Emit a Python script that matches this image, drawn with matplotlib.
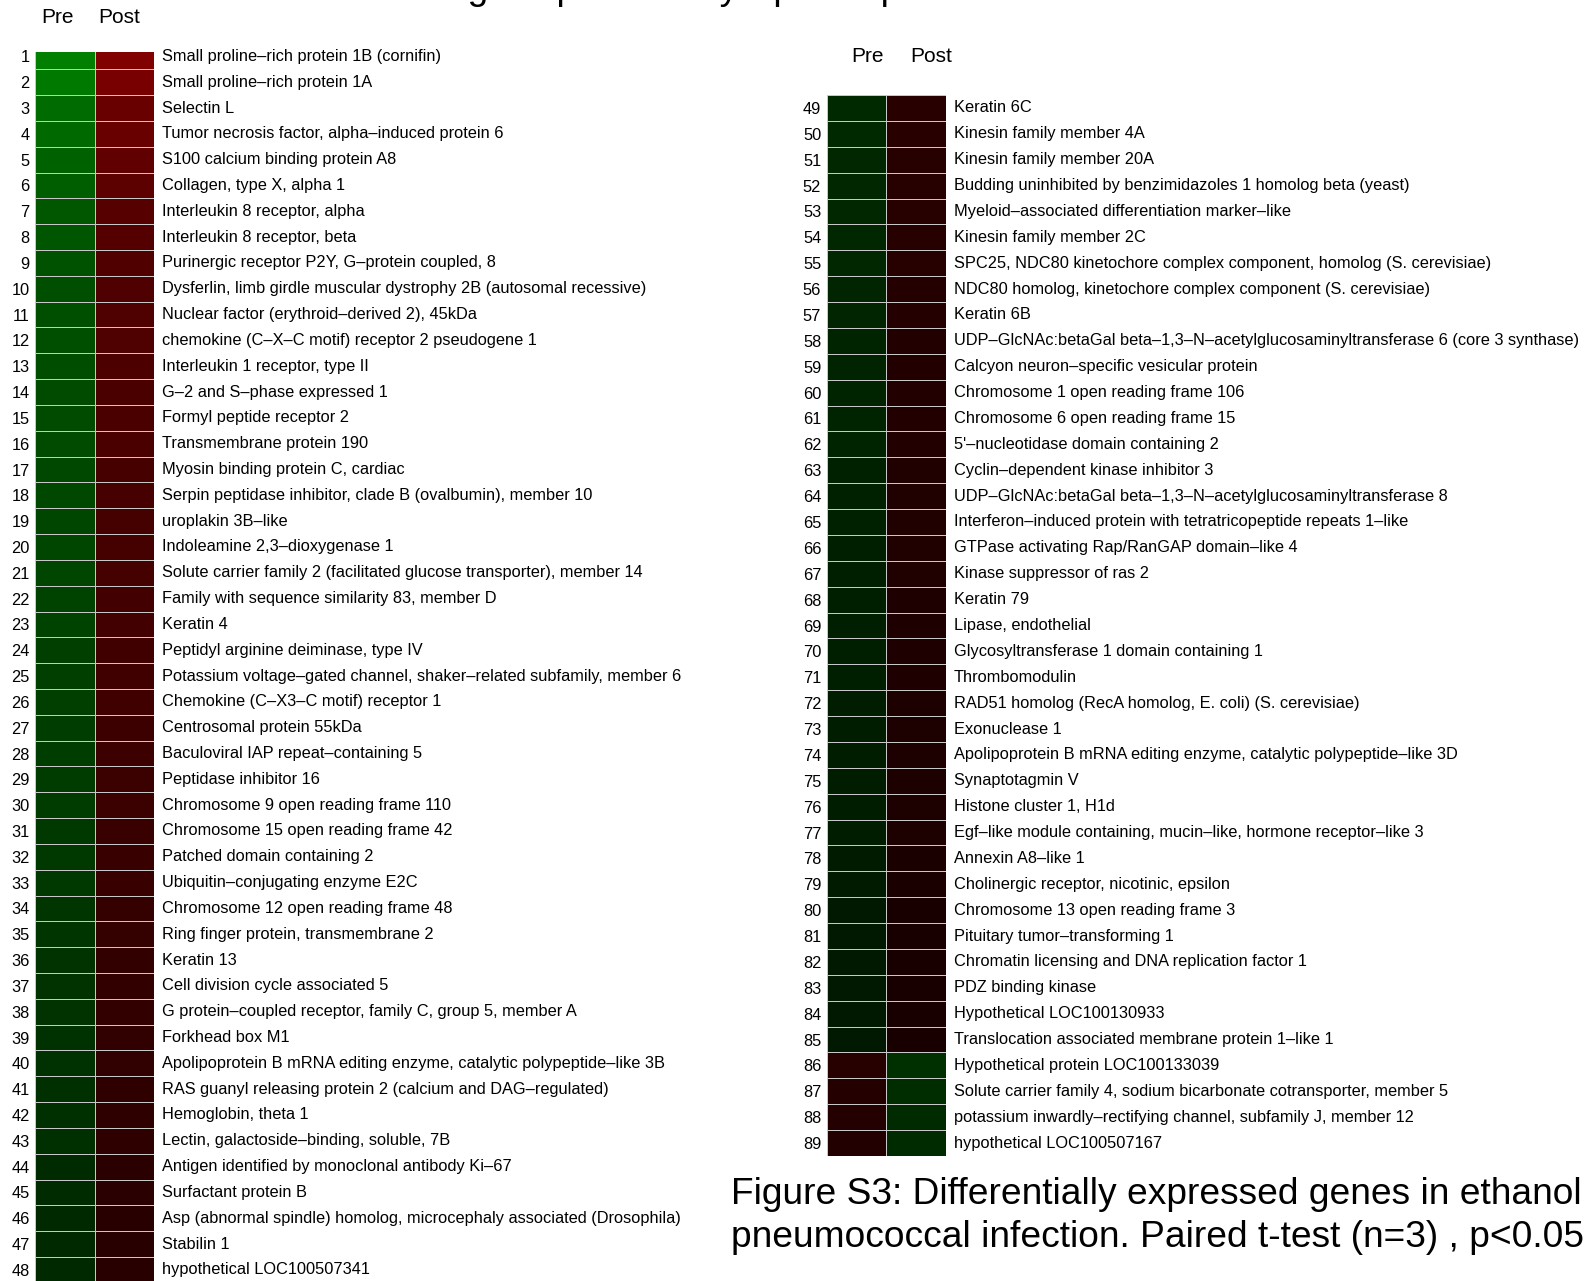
import numpy as np
import matplotlib
matplotlib.use("Agg")
import matplotlib.pyplot as plt
from matplotlib.colors import LinearSegmentedColormap

plt.rcParams['font.family'] = ['Liberation Sans', 'DejaVu Sans']

# gene names, rows 1-48 (left block) and 49-89 (right block)
genes_left = [
    "Small proline–rich protein 1B (cornifin)",
    "Small proline–rich protein 1A",
    "Selectin L",
    "Tumor necrosis factor, alpha–induced protein 6",
    "S100 calcium binding protein A8",
    "Collagen, type X, alpha 1",
    "Interleukin 8 receptor, alpha",
    "Interleukin 8 receptor, beta",
    "Purinergic receptor P2Y, G–protein coupled, 8",
    "Dysferlin, limb girdle muscular dystrophy 2B (autosomal recessive)",
    "Nuclear factor (erythroid–derived 2), 45kDa",
    "chemokine (C–X–C motif) receptor 2 pseudogene 1",
    "Interleukin 1 receptor, type II",
    "G–2 and S–phase expressed 1",
    "Formyl peptide receptor 2",
    "Transmembrane protein 190",
    "Myosin binding protein C, cardiac",
    "Serpin peptidase inhibitor, clade B (ovalbumin), member 10",
    "uroplakin 3B–like",
    "Indoleamine 2,3–dioxygenase 1",
    "Solute carrier family 2 (facilitated glucose transporter), member 14",
    "Family with sequence similarity 83, member D",
    "Keratin 4",
    "Peptidyl arginine deiminase, type IV",
    "Potassium voltage–gated channel, shaker–related subfamily, member 6",
    "Chemokine (C–X3–C motif) receptor 1",
    "Centrosomal protein 55kDa",
    "Baculoviral IAP repeat–containing 5",
    "Peptidase inhibitor 16",
    "Chromosome 9 open reading frame 110",
    "Chromosome 15 open reading frame 42",
    "Patched domain containing 2",
    "Ubiquitin–conjugating enzyme E2C",
    "Chromosome 12 open reading frame 48",
    "Ring finger protein, transmembrane 2",
    "Keratin 13",
    "Cell division cycle associated 5",
    "G protein–coupled receptor, family C, group 5, member A",
    "Forkhead box M1",
    "Apolipoprotein B mRNA editing enzyme, catalytic polypeptide–like 3B",
    "RAS guanyl releasing protein 2 (calcium and DAG–regulated)",
    "Hemoglobin, theta 1",
    "Lectin, galactoside–binding, soluble, 7B",
    "Antigen identified by monoclonal antibody Ki–67",
    "Surfactant protein B",
    "Asp (abnormal spindle) homolog, microcephaly associated (Drosophila)",
    "Stabilin 1",
    "hypothetical LOC100507341",
]
genes_right = [
    "Keratin 6C",
    "Kinesin family member 4A",
    "Kinesin family member 20A",
    "Budding uninhibited by benzimidazoles 1 homolog beta (yeast)",
    "Myeloid–associated differentiation marker–like",
    "Kinesin family member 2C",
    "SPC25, NDC80 kinetochore complex component, homolog (S. cerevisiae)",
    "NDC80 homolog, kinetochore complex component (S. cerevisiae)",
    "Keratin 6B",
    "UDP–GlcNAc:betaGal beta–1,3–N–acetylglucosaminyltransferase 6 (core 3 synthase)",
    "Calcyon neuron–specific vesicular protein",
    "Chromosome 1 open reading frame 106",
    "Chromosome 6 open reading frame 15",
    "5'–nucleotidase domain containing 2",
    "Cyclin–dependent kinase inhibitor 3",
    "UDP–GlcNAc:betaGal beta–1,3–N–acetylglucosaminyltransferase 8",
    "Interferon–induced protein with tetratricopeptide repeats 1–like",
    "GTPase activating Rap/RanGAP domain–like 4",
    "Kinase suppressor of ras 2",
    "Keratin 79",
    "Lipase, endothelial",
    "Glycosyltransferase 1 domain containing 1",
    "Thrombomodulin",
    "RAD51 homolog (RecA homolog, E. coli) (S. cerevisiae)",
    "Exonuclease 1",
    "Apolipoprotein B mRNA editing enzyme, catalytic polypeptide–like 3D",
    "Synaptotagmin V",
    "Histone cluster 1, H1d",
    "Egf–like module containing, mucin–like, hormone receptor–like 3",
    "Annexin A8–like 1",
    "Cholinergic receptor, nicotinic, epsilon",
    "Chromosome 13 open reading frame 3",
    "Pituitary tumor–transforming 1",
    "Chromatin licensing and DNA replication factor 1",
    "PDZ binding kinase",
    "Hypothetical LOC100130933",
    "Translocation associated membrane protein 1–like 1",
    "Hypothetical protein LOC100133039",
    "Solute carrier family 4, sodium bicarbonate cotransporter, member 5",
    "potassium inwardly–rectifying channel, subfamily J, member 12",
    "hypothetical LOC100507167",
]

# scaled expression, negative = green, positive = red
pre_left = [-0.50, -0.47, -0.42, -0.41, -0.38, -0.36, -0.34, -0.33, -0.32, -0.31,
            -0.31, -0.31, -0.30, -0.29, -0.29, -0.29, -0.28, -0.28, -0.27, -0.27,
            -0.27, -0.26, -0.26, -0.25, -0.25, -0.25, -0.24, -0.24, -0.23, -0.23,
            -0.22, -0.22, -0.22, -0.21, -0.21, -0.20, -0.20, -0.20, -0.19, -0.19,
            -0.18, -0.18, -0.18, -0.17, -0.17, -0.16, -0.16, -0.16]
post_left = [0.50, 0.47, 0.41, 0.41, 0.38, 0.36, 0.34, 0.33, 0.32, 0.31,
             0.31, 0.31, 0.30, 0.29, 0.29, 0.29, 0.28, 0.28, 0.27, 0.27,
             0.27, 0.26, 0.26, 0.25, 0.25, 0.25, 0.24, 0.24, 0.23, 0.23,
             0.22, 0.22, 0.22, 0.21, 0.21, 0.20, 0.20, 0.20, 0.19, 0.19,
             0.18, 0.18, 0.18, 0.17, 0.17, 0.16, 0.16, 0.16]
pre_right = [-0.160, -0.160, -0.155, -0.155, -0.150, -0.150, -0.150, -0.145, -0.145, -0.140,
             -0.140, -0.140, -0.135, -0.135, -0.130, -0.130, -0.130, -0.125, -0.125, -0.120,
             -0.120, -0.120, -0.120, -0.115, -0.115, -0.115, -0.110, -0.110, -0.110, -0.105,
             -0.105, -0.100, -0.100, -0.100, -0.095, -0.095, -0.095,
             0.150, 0.145, 0.145, 0.140]
post_right = [0.160, 0.160, 0.155, 0.155, 0.150, 0.150, 0.150, 0.145, 0.145, 0.140,
              0.140, 0.140, 0.135, 0.135, 0.130, 0.130, 0.130, 0.125, 0.125, 0.120,
              0.120, 0.120, 0.120, 0.115, 0.115, 0.115, 0.110, 0.110, 0.110, 0.105,
              0.105, 0.100, 0.100, 0.100, 0.095, 0.095, 0.095,
              -0.185, -0.175, -0.170, -0.165]

columns = ["Pre", "Post"]

cmap = LinearSegmentedColormap.from_list("grn_blk_red", ["#00ff00", "#000000", "#ff0000"])

W, H = 1587, 1281
fig = plt.figure(figsize=(W / 100, H / 100), dpi=100)
fig.patch.set_facecolor("white")

label_fs = 11.8


def panel(rect, pre, post, names, first, ylim, head_xy):
    ax = fig.add_axes(rect)
    z = np.column_stack([pre, post])
    n = len(names)
    ax.pcolormesh(np.arange(3), np.arange(n + 1), z, cmap=cmap, vmin=-1, vmax=1,
                  edgecolors="#c8c8c8", linewidth=0.7)
    ax.set_xlim(0, 2)
    ax.set_ylim(*ylim)
    centers = np.arange(n) + 0.5
    ax.set_yticks(centers)
    ax.set_yticklabels([str(first + i) for i in range(n)], fontsize=label_fs)
    ax.tick_params(axis="y", length=0, pad=4)
    ax.set_xticks([])
    for s in ax.spines.values():
        s.set_visible(False)
    for c, name in zip(centers, names):
        ax.annotate(name, xy=(2, c), xytext=(6, 0), textcoords="offset points",
                    va="center", ha="left", fontsize=label_fs, annotation_clip=False)
    for (hx, hy), col in zip(head_xy, columns):
        ax.text(hx, hy, col, ha="center", va="center", fontsize=15, clip_on=False)
    return ax


# left block: top row partly hidden under the upper edge of the panel
panel([35.4 / W, 0.0, 118.3 / W, (H - 51.7) / H], pre_left, post_left, genes_left, 1,
      (47.93, 0.318), [(0.377, -1.02), (1.42, -1.02)])

# right block
panel([826.7 / W, (H - 1156.0) / H, 119.0 / W, 1061.0 / H], pre_right, post_right,
      genes_right, 49, (41, 0), [(0.69, -1.48), (1.75, -1.48)])

fig.text(730.7 / W, 1 - 1216.0 / H,
         "Figure S3: Differentially expressed genes in ethanol\n"
         "pneumococcal infection. Paired t-test (n=3) , p<0.05",
         ha="left", va="center", fontsize=26.7, linespacing=1.32)

# heading running off the top edge, only its descenders remain in view
fig.text(288 / W, 1 + 1.0 / H, "Main findings expressed by Sp with pneumonia",
         ha="left", va="baseline", fontsize=26.7)

fig.savefig("out.png", dpi=100, facecolor="white")
